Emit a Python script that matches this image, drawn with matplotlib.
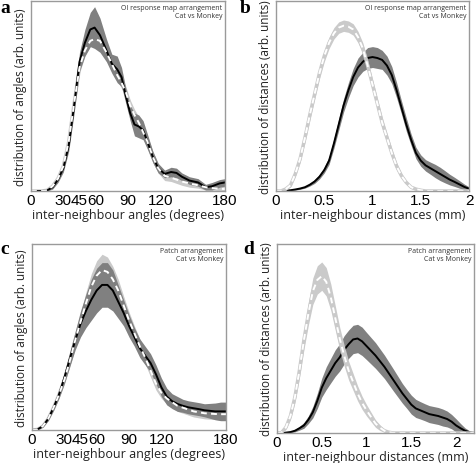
import matplotlib
matplotlib.use("Agg")
import matplotlib.pyplot as plt
import numpy as np

# ---- panel a: inter-neighbour angles, OI response maps ----
ang_a = [0, 10, 15, 20, 25, 30, 35, 40, 45, 50, 55, 59, 64, 70, 75, 80, 84, 88, 92, 96,
         100, 104, 108, 113, 118, 124, 130, 135, 140, 147, 155, 162, 168, 175, 180]
monkey_a = [0, 0, 0.003, 0.02, 0.06, 0.12, 0.24, 0.45, 0.68, 0.78, 0.85, 0.86, 0.82, 0.74,
            0.67, 0.64, 0.60, 0.50, 0.41, 0.35, 0.34, 0.32, 0.26, 0.18, 0.12, 0.09, 0.10,
            0.095, 0.075, 0.055, 0.045, 0.02, 0.025, 0.04, 0.045]
monkey_a_sd = [0, 0, 0.003, 0.01, 0.015, 0.02, 0.03, 0.04, 0.05, 0.07, 0.09, 0.11, 0.09, 0.06,
               0.05, 0.07, 0.05, 0.04, 0.04, 0.06, 0.06, 0.05, 0.04, 0.03, 0.025, 0.02, 0.025,
               0.025, 0.02, 0.02, 0.02, 0.015, 0.02, 0.02, 0.02]
cat_a = [0, 0, 0.004, 0.025, 0.065, 0.13, 0.26, 0.46, 0.65, 0.74, 0.79, 0.80, 0.79, 0.73,
         0.67, 0.61, 0.57, 0.52, 0.45, 0.40, 0.36, 0.31, 0.26, 0.18, 0.12, 0.08, 0.07,
         0.06, 0.05, 0.04, 0.03, 0.02, 0.015, 0.012, 0.01]
cat_a_sd = [0, 0, 0.003, 0.01, 0.015, 0.02, 0.025, 0.03, 0.03, 0.03, 0.03, 0.03, 0.03, 0.03,
            0.03, 0.03, 0.03, 0.03, 0.03, 0.03, 0.03, 0.03, 0.03, 0.03, 0.025, 0.025, 0.02,
            0.02, 0.02, 0.02, 0.015, 0.015, 0.01, 0.01, 0.01]

# ---- panel b: inter-neighbour distances, OI response maps ----
dist_b = [0, 0.05, 0.1, 0.15, 0.2, 0.25, 0.3, 0.35, 0.4, 0.45, 0.5, 0.55, 0.6, 0.65, 0.7,
          0.75, 0.8, 0.85, 0.9, 0.95, 1.0, 1.05, 1.1, 1.15, 1.2, 1.25, 1.3, 1.35, 1.4, 1.45,
          1.5, 1.55, 1.6, 1.65, 1.7, 1.75, 1.8, 1.85, 1.9, 1.95, 2.0]
monkey_b = [0, 0, 0.002, 0.004, 0.008, 0.013, 0.02, 0.033, 0.05, 0.075, 0.11, 0.16, 0.25,
            0.35, 0.45, 0.53, 0.60, 0.65, 0.68, 0.70, 0.705, 0.70, 0.69, 0.66, 0.61, 0.53,
            0.44, 0.35, 0.27, 0.20, 0.16, 0.135, 0.12, 0.105, 0.09, 0.075, 0.06, 0.048,
            0.035, 0.022, 0.012]
monkey_b_sd = [0, 0, 0.001, 0.002, 0.003, 0.004, 0.005, 0.007, 0.01, 0.012, 0.015, 0.02,
               0.025, 0.03, 0.035, 0.04, 0.045, 0.05, 0.05, 0.055, 0.055, 0.055, 0.05, 0.05,
               0.045, 0.04, 0.035, 0.035, 0.03, 0.03, 0.03, 0.03, 0.032, 0.035, 0.035,
               0.032, 0.028, 0.024, 0.02, 0.015, 0.01]
cat_b = [0, 0, 0.01, 0.03, 0.09, 0.17, 0.28, 0.40, 0.51, 0.62, 0.71, 0.78, 0.83, 0.86, 0.87,
         0.865, 0.85, 0.81, 0.75, 0.66, 0.56, 0.46, 0.36, 0.28, 0.20, 0.13, 0.08, 0.045,
         0.02, 0.01, 0.004, 0, 0, 0, 0, 0, 0, 0, 0, 0, 0]
cat_b_sd = [0, 0, 0.005, 0.01, 0.015, 0.02, 0.025, 0.03, 0.03, 0.03, 0.03, 0.03, 0.03, 0.03,
            0.03, 0.03, 0.03, 0.03, 0.03, 0.03, 0.03, 0.03, 0.03, 0.025, 0.025, 0.02, 0.015,
            0.01, 0.008, 0.005, 0.003, 0, 0, 0, 0, 0, 0, 0, 0, 0, 0]

# ---- panel c: inter-neighbour angles, patches ----
ang_c = [0, 5, 10, 15, 20, 25, 30, 35, 40, 45, 50, 55, 60, 65, 70, 75, 80, 85, 90, 95, 100,
         105, 110, 115, 120, 125, 130, 135, 140, 145, 150, 155, 160, 165, 170, 175, 180]
monkey_c = [0, 0.003, 0.02, 0.06, 0.12, 0.19, 0.28, 0.38, 0.48, 0.57, 0.64, 0.70, 0.75, 0.78,
            0.78, 0.75, 0.69, 0.63, 0.56, 0.50, 0.44, 0.40, 0.36, 0.30, 0.23, 0.18, 0.155,
            0.14, 0.13, 0.122, 0.117, 0.112, 0.106, 0.103, 0.10, 0.10, 0.10]
monkey_c_sd = [0, 0.002, 0.005, 0.01, 0.015, 0.02, 0.03, 0.04, 0.05, 0.07, 0.09, 0.11, 0.12,
               0.12, 0.12, 0.11, 0.09, 0.07, 0.06, 0.05, 0.05, 0.05, 0.05, 0.05, 0.05, 0.045,
               0.04, 0.04, 0.035, 0.035, 0.035, 0.035, 0.035, 0.04, 0.045, 0.05, 0.05]
cat_c = [0, 0.003, 0.02, 0.06, 0.12, 0.19, 0.27, 0.37, 0.48, 0.58, 0.68, 0.77, 0.83, 0.86,
         0.85, 0.81, 0.75, 0.67, 0.59, 0.52, 0.45, 0.39, 0.32, 0.25, 0.20, 0.17, 0.15, 0.13,
         0.12, 0.11, 0.10, 0.095, 0.09, 0.088, 0.086, 0.085, 0.085]
cat_c_sd = [0, 0.002, 0.005, 0.01, 0.015, 0.02, 0.025, 0.03, 0.035, 0.045, 0.06, 0.07, 0.08,
            0.085, 0.08, 0.07, 0.06, 0.05, 0.045, 0.04, 0.04, 0.035, 0.035, 0.035, 0.03, 0.03,
            0.03, 0.03, 0.03, 0.03, 0.03, 0.03, 0.03, 0.03, 0.03, 0.03, 0.03]

# ---- panel d: inter-neighbour distances, patches ----
dist_d = [0, 0.05, 0.1, 0.15, 0.2, 0.25, 0.3, 0.35, 0.4, 0.45, 0.5, 0.55, 0.6, 0.65, 0.7,
          0.75, 0.8, 0.85, 0.9, 0.95, 1.0, 1.05, 1.1, 1.15, 1.2, 1.25, 1.3, 1.35, 1.4, 1.45,
          1.5, 1.55, 1.6, 1.65, 1.7, 1.75, 1.8, 1.85, 1.9, 1.95, 2.0, 2.05, 2.1, 2.15, 2.2]
monkey_d = [0, 0, 0.002, 0.005, 0.012, 0.025, 0.04, 0.07, 0.11, 0.17, 0.24, 0.29, 0.33, 0.37,
            0.40, 0.44, 0.47, 0.495, 0.50, 0.485, 0.46, 0.435, 0.41, 0.38, 0.35, 0.315, 0.28,
            0.245, 0.21, 0.18, 0.15, 0.13, 0.12, 0.11, 0.10, 0.095, 0.09, 0.082, 0.074, 0.06,
            0.04, 0.025, 0.012, 0.004, 0]
monkey_d_sd = [0, 0, 0.001, 0.003, 0.006, 0.01, 0.015, 0.02, 0.03, 0.04, 0.05, 0.06, 0.065,
               0.07, 0.072, 0.075, 0.075, 0.075, 0.075, 0.075, 0.072, 0.07, 0.068, 0.065,
               0.062, 0.06, 0.058, 0.055, 0.052, 0.05, 0.05, 0.048, 0.046, 0.045, 0.045,
               0.045, 0.045, 0.045, 0.042, 0.038, 0.035, 0.025, 0.015, 0.008, 0.003]
cat_d = [0, 0.002, 0.03, 0.09, 0.19, 0.33, 0.49, 0.63, 0.75, 0.81, 0.83, 0.80, 0.72, 0.61,
         0.50, 0.41, 0.33, 0.27, 0.21, 0.16, 0.12, 0.085, 0.05, 0.028, 0.012, 0.004,
         0, 0, 0, 0, 0, 0, 0, 0, 0, 0, 0, 0, 0, 0, 0, 0, 0, 0, 0]
cat_d_sd = [0, 0.002, 0.01, 0.02, 0.03, 0.04, 0.05, 0.06, 0.07, 0.075, 0.075, 0.075, 0.07,
            0.065, 0.06, 0.055, 0.05, 0.045, 0.04, 0.035, 0.03, 0.025, 0.02, 0.015, 0.008,
            0.003, 0, 0, 0, 0, 0, 0, 0, 0, 0, 0, 0, 0, 0, 0, 0, 0, 0, 0, 0]

ang_ticks = [0, 30, 45, 60, 90, 120, 180]
dist_ticks = [0, 0.5, 1, 1.5, 2]
dist_ticklabels = ['0', '0.5', '1', '1.5', '2']

DARK = '#808080'
LIGHT = '#cacaca'
SPINE = '#9a9a9a'
LABEL_FONT = 'Open Sans'
TICK_FONT = 'Liberation Sans'

fig = plt.figure(figsize=(4.76, 4.64), dpi=100)


def panel(rect, x, mon, mon_sd, cat, cat_sd, xmax, ticks, ticklabels,
          xlabel, ylabel, note, letter, letter_pos, light_on_top):
    ax = fig.add_axes(rect)
    x = np.array(x)
    mon, mon_sd = np.array(mon), np.array(mon_sd)
    cat, cat_sd = np.array(cat), np.array(cat_sd)
    zl = 4 if light_on_top else 1
    ax.fill_between(x, cat - cat_sd, cat + cat_sd, color=LIGHT, lw=0, zorder=zl)
    ax.plot(x, cat, color=LIGHT, lw=2.5, zorder=zl)
    ax.fill_between(x, mon - mon_sd, mon + mon_sd, color=DARK, lw=0, zorder=2)
    ax.plot(x, mon, color='black', lw=1.4, zorder=3)
    ax.plot(x, cat, color='white', lw=1.4, dashes=(3, 2.2), zorder=5)
    ax.set_xlim(0, xmax)
    ax.set_ylim(0, 1)
    ax.set_yticks([])
    ax.set_xticks(ticks)
    ax.set_xticklabels(ticklabels, fontsize=11, family=TICK_FONT)
    ax.tick_params(axis='x', length=0, pad=1.5)
    for s in ax.spines.values():
        s.set_color(SPINE)
        s.set_linewidth(1.0)
        s.set_zorder(6)
    ax.set_xlabel(xlabel, fontsize=9, family=LABEL_FONT, color='#222222', labelpad=0.5)
    ax.set_ylabel(ylabel, fontsize=8.5, family=LABEL_FONT, color='#222222', labelpad=3)
    ax.text(0.985, 0.985, note, transform=ax.transAxes, ha='right', va='top',
            fontsize=5.0, family=LABEL_FONT, color='#333333', linespacing=1.25)
    fig.text(letter_pos[0], letter_pos[1], letter, fontsize=14, fontweight='bold',
             family='Liberation Serif', ha='left', va='top')
    return ax


note_oi = 'OI response map arrangement\nCat vs Monkey'
note_patch = 'Patch arrangement\nCat vs Monkey'

panel([31 / 476, 1 - 192 / 464, 194 / 476, 190 / 464], ang_a, monkey_a, monkey_a_sd,
      cat_a, cat_a_sd, 180, ang_ticks, [str(t) for t in ang_ticks],
      'inter-neighbour angles (degrees)', 'distribution of angles (arb. units)',
      note_oi, 'a', (0.0, 1.0), False)
panel([276 / 476, 1 - 192 / 464, 193 / 476, 190 / 464], dist_b, monkey_b, monkey_b_sd,
      cat_b, cat_b_sd, 2.0, dist_ticks, dist_ticklabels,
      'inter-neighbour distances (mm)', 'distribution of distances (arb. units)',
      note_oi, 'b', (240 / 476, 1.0), True)
panel([32 / 476, 1 - 431 / 464, 194 / 476, 186 / 464], ang_c, monkey_c, monkey_c_sd,
      cat_c, cat_c_sd, 180, ang_ticks, [str(t) for t in ang_ticks],
      'inter-neighbour angles (degrees)', 'distribution of angles (arb. units)',
      note_patch, 'c', (0.0, 1 - 241 / 464), False)
panel([277 / 476, 1 - 434 / 464, 197 / 476, 189 / 464], dist_d, monkey_d, monkey_d_sd,
      cat_d, cat_d_sd, 2.2, dist_ticks, dist_ticklabels,
      'inter-neighbour distances (mm)', 'distribution of distances (arb. units)',
      note_patch, 'd', (243 / 476, 1 - 241 / 464), True)

fig.savefig('out.png', dpi=100)
